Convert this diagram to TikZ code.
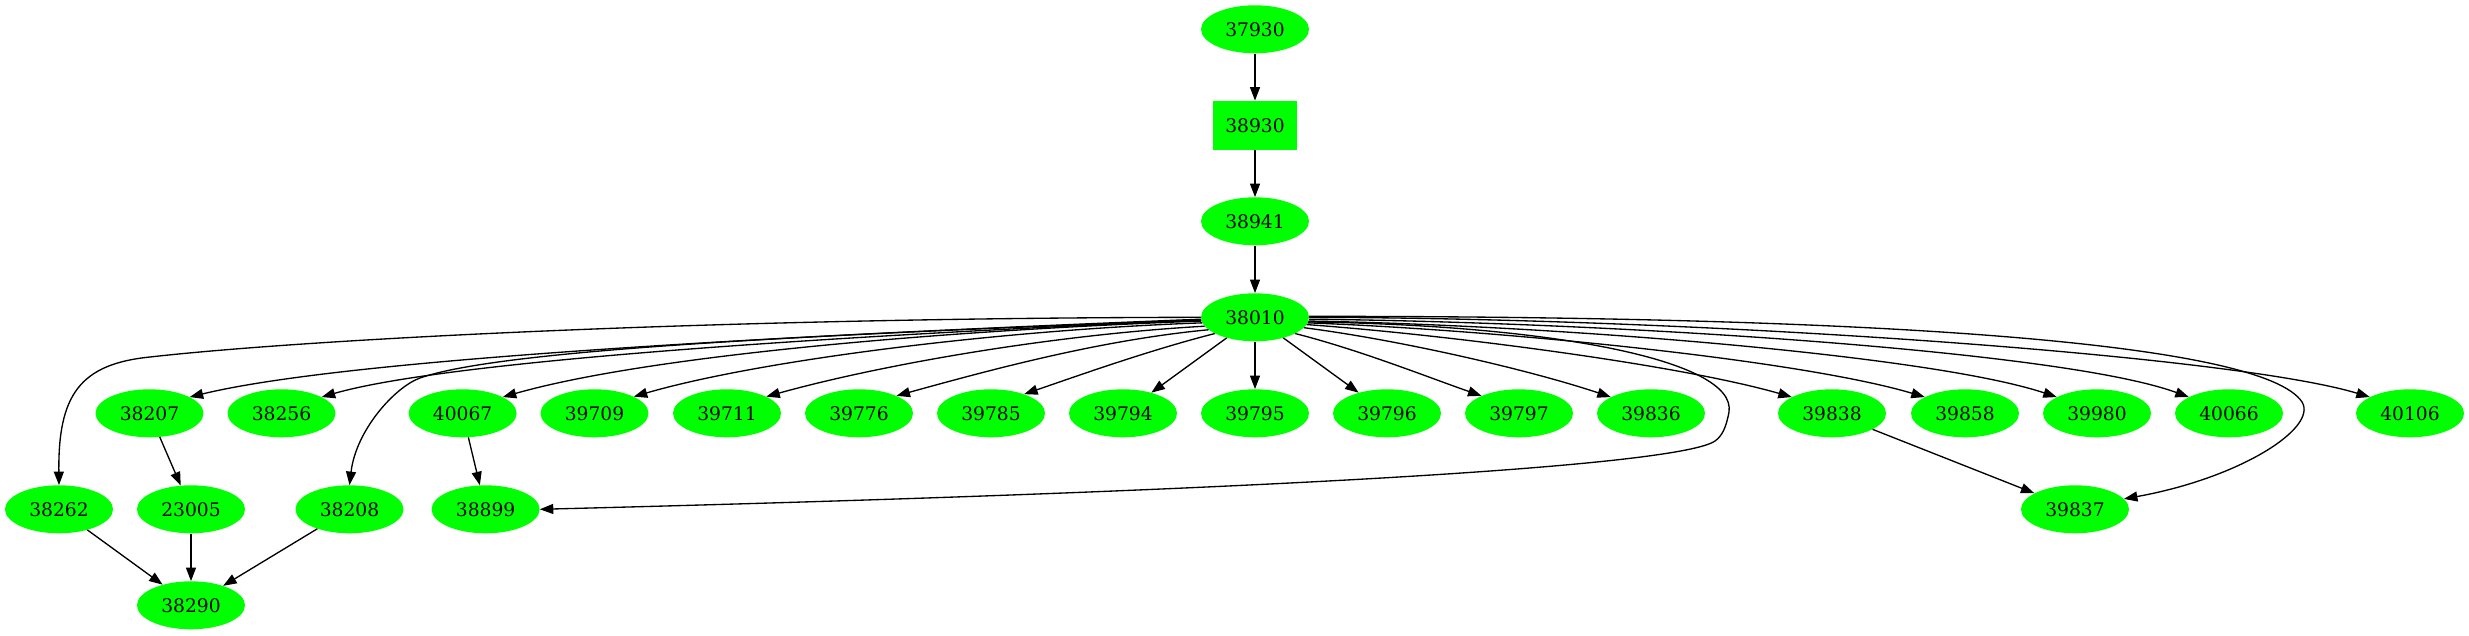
\documentclass[tikz,border=0pt]{standalone}
\usepackage{fontspec}
\setmainfont{DejaVu Serif}
\usetikzlibrary{arrows.meta,shapes.geometric}
\definecolor{gvgreen}{HTML}{00FF00}
\begin{document}
\begin{tikzpicture}[x=1pt,y=-1pt,
  gnode/.style={ellipse, fill=gvgreen, draw=none, minimum width=108pt, minimum height=48pt, inner sep=0pt, font=\fontsize{18.67pt}{22pt}\selectfont},
  gbox/.style={rectangle, fill=gvgreen, draw=none, minimum width=84pt, minimum height=49pt, inner sep=0pt, font=\fontsize{18.67pt}{22pt}\selectfont},
  edge/.style={draw=black, line width=1.33pt, -{Triangle[length=13.5pt,width=10pt]}}]
\useasboundingbox (0,0) rectangle (2469,635);
% nodes
\node[gnode] (n37930) at (1255,29.3) {37930};
\node[gbox]  (n38930) at (1255,125.3) {38930};
\node[gnode] (n38941) at (1255,221.3) {38941};
\node[gnode] (n38010) at (1255,317.3) {38010};
\node[gnode] (n38207) at (149.5,413.3) {38207};
\node[gnode] (n38256) at (281.5,413.3) {38256};
\node[gnode] (n40067) at (462.6,413.3) {40067};
\node[gnode] (n39709) at (594.5,413.3) {39709};
\node[gnode] (n39711) at (727,413.3) {39711};
\node[gnode] (n39776) at (859,413.3) {39776};
\node[gnode] (n39785) at (991,413.3) {39785};
\node[gnode] (n39794) at (1123,413.3) {39794};
\node[gnode] (n39795) at (1255,413.3) {39795};
\node[gnode] (n39796) at (1387,413.3) {39796};
\node[gnode] (n39797) at (1519,413.3) {39797};
\node[gnode] (n39836) at (1651,413.3) {39836};
\node[gnode] (n39838) at (1832,413.3) {39838};
\node[gnode] (n39858) at (1965,413.3) {39858};
\node[gnode] (n39980) at (2097,413.3) {39980};
\node[gnode] (n40066) at (2229,413.3) {40066};
\node[gnode] (n40106) at (2410,413.3) {40106};
\node[gnode] (n38262) at (59,509.3) {38262};
\node[gnode] (n23005) at (191,509.3) {23005};
\node[gnode] (n38208) at (349.5,509.3) {38208};
\node[gnode] (n38899) at (485.6,509.3) {38899};
\node[gnode] (n39837) at (2075,509.3) {39837};
\node[gnode] (n38290) at (191,605.3) {38290};
% edges
\draw[edge] (n37930) -- (n38930);
\draw[edge] (n38930) -- (n38941);
\draw[edge] (n38941) -- (n38010);
\draw[edge] (n38010.180) .. controls (700,318) and (300,340) .. (150,357) .. controls (80,364) and (58,395) .. (n38262.north);
\draw[edge] (n38010.182) .. controls (800,335) and (350,358) .. (n38207.22);
\draw[edge] (n38010.183) .. controls (850,335) and (450,360) .. (n38256.22);
\draw[edge] (n38010.183) .. controls (800,335) and (500,350) .. (420,378) .. controls (395,387) and (356,430) .. (n38208.north);
\draw[edge] (n38010.184) .. controls (950,330) and (650,355) .. (n40067.22);
\draw[edge] (n38010.186) .. controls (1000,330) and (760,360) .. (n39709.23);
\draw[edge] (n38010.190) .. controls (1050,335) and (880,365) .. (n39711.23);
\draw[edge] (n38010.195) .. controls (1100,340) and (990,370) .. (n39776.25);
\draw[edge] (n38010.202) .. controls (1150,350) and (1080,375) .. (n39785.30);
\draw[edge] (n38010) -- (n39794);
\draw[edge] (n38010) -- (n39795);
\draw[edge] (n38010) -- (n39796);
\draw[edge] (n38010.-22) .. controls (1360,350) and (1430,378) .. (n39797.155);
\draw[edge] (n38010.-12) .. controls (1400,340) and (1530,370) .. (n39836.158);
\draw[edge] (n38010.-8) .. controls (1450,335) and (1680,365) .. (n39838.158);
\draw[edge] (n38010.-6) .. controls (1500,330) and (1800,360) .. (n39858.158);
\draw[edge] (n38010.-4) .. controls (1550,325) and (1930,355) .. (n39980.158);
\draw[edge] (n38010.-2) .. controls (1600,322) and (2060,350) .. (n40066.158);
\draw[edge] (n38010.0) .. controls (1700,318) and (2230,355) .. (n40106.158);
\draw[edge] (n38010.1) .. controls (1900,316) and (2264,344) .. (2302,402) .. controls (2318,428) and (2240,478) .. (n39837.12);
\draw[edge] (n38010.-5) .. controls (1550,325) and (1737,360) .. (1729,412) .. controls (1726,428) and (1722,436) .. (1715,441) .. controls (1680,465) and (1300,490) .. (n38899.east);
\draw[edge] (n38207) -- (n23005);
\draw[edge] (n40067) -- (n38899);
\draw[edge] (n38262) -- (n38290);
\draw[edge] (n23005) -- (n38290);
\draw[edge] (n38208) -- (n38290);
\draw[edge] (n39838) -- (n39837);
\end{tikzpicture}
\end{document}
